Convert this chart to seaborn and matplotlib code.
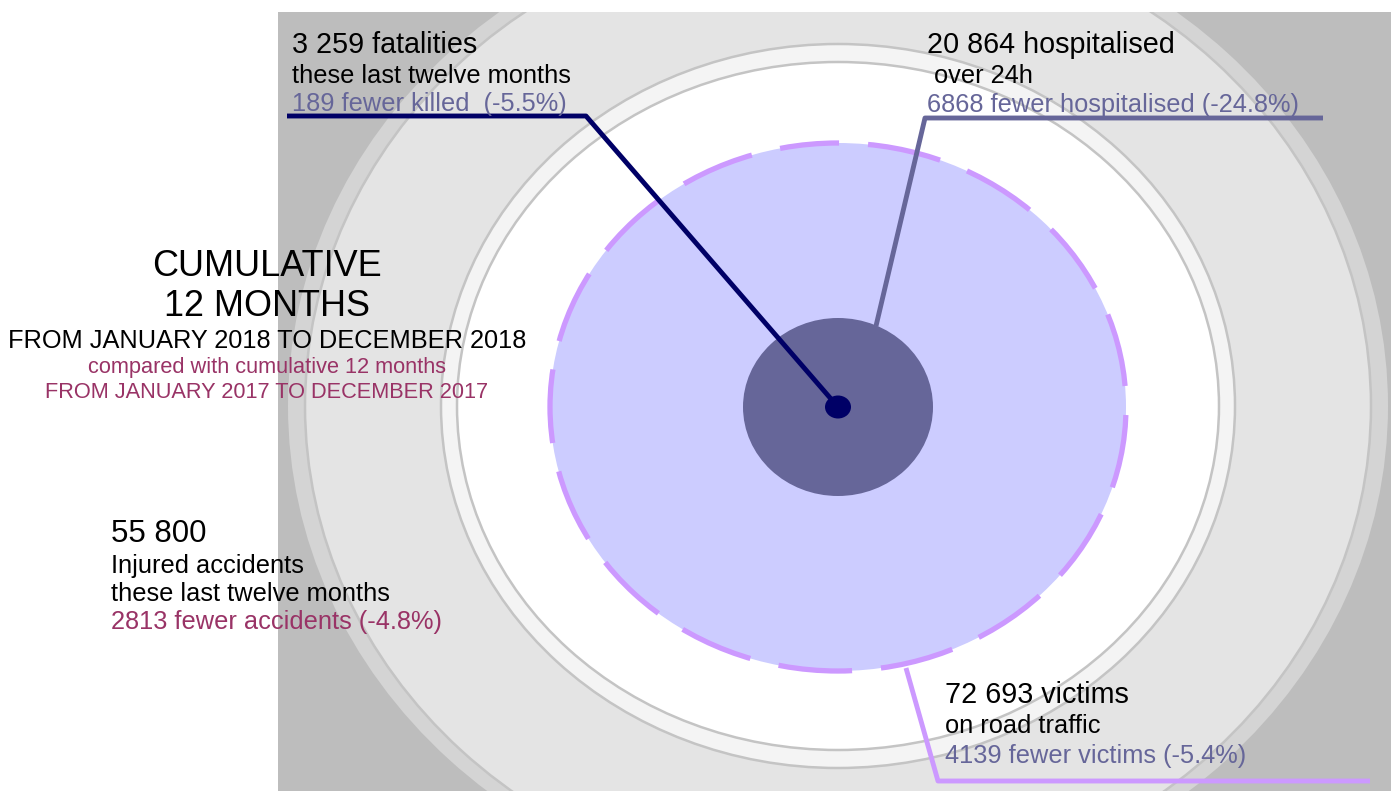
import pandas as pd
import matplotlib.pyplot as plt
import seaborn as sns
from matplotlib.patches import Ellipse, Rectangle

# Text blocks shown on the chart
FATALITIES = ['3 259 fatalities', 'these last twelve months', '189 fewer killed  (-5.5%)']
HOSPITALISED = ['20 864 hospitalised', ' over 24h', '6868 fewer hospitalised (-24.8%)']
VICTIMS = ['72 693 victims', 'on road traffic', '4139 fewer victims (-5.4%)']
ACCIDENTS = ['55 800', 'Injured accidents', 'these last twelve months', '2813 fewer accidents (-4.8%)']
PERIOD = ['CUMULATIVE', '12 MONTHS', 'FROM JANUARY 2018 TO DECEMBER 2018']
COMPARED = ['compared with cumulative 12 months', 'FROM JANUARY 2017 TO DECEMBER 2017']

# Circle sizes (half width, half height, in px)
BG_RINGS_W = [550, 533, 397, 381]
BG_RINGS_H = [500, 487, 362, 344]
VICTIMS_R = (288, 264)
HOSP_R = (95, 89)
FATAL_R = (13, 11.5)

# Leader lines (pixel coords)
FATAL_LINE_X = [838, 586, 287]
FATAL_LINE_Y = [407, 116, 116]
HOSP_LINE_X = [876, 925, 1323]
HOSP_LINE_Y = [326, 118, 118]
VICT_LINE_X = [906, 938, 1370]
VICT_LINE_Y = [668, 781, 781]

NAVY = '#000066'
SLATE = '#666699'
LILAC = '#cc99ff'
MAROON = '#993366'

sns.set_theme(style='white')
plt.rcParams['font.family'] = ['Liberation Sans', 'DejaVu Sans']

W, H = 1391, 791
fig = plt.figure(figsize=(W / 100, H / 100), dpi=100)
ax = fig.add_axes([0, 0, 1, 1])

cx, cy = 838, 406

# Grey panel and concentric background rings
panel = Rectangle((278, 12), W - 278, H - 12, facecolor='#bdbdbd', edgecolor='none', zorder=0)
ax.add_patch(panel)
ring_fill = ['#d4d4d4', '#e4e4e4', '#f4f4f4', '#ffffff']
ring_edge = ['none', '#c4c4c4', '#c4c4c4', '#c4c4c4']
for i, (rw, rh) in enumerate(zip(BG_RINGS_W, BG_RINGS_H)):
    e = Ellipse((cx, cy), 2 * rw, 2 * rh, facecolor=ring_fill[i], edgecolor=ring_edge[i],
                lw=1.8, zorder=1 + i)
    ax.add_patch(e)
    e.set_clip_path(panel)

# Victims circle: light fill with a dashed lilac outline
ax.add_patch(Ellipse((cx, cy + 1), 2 * VICTIMS_R[0], 2 * VICTIMS_R[1], facecolor='#ccccff',
                     edgecolor='none', zorder=6))
ax.add_patch(Ellipse((cx, cy + 1), 2 * VICTIMS_R[0], 2 * VICTIMS_R[1], facecolor='none',
                     edgecolor=LILAC, lw=3.8, ls=(13.8, (14, 5.5)), zorder=7))

# Leader lines
lines = pd.DataFrame({
    'x': HOSP_LINE_X + VICT_LINE_X,
    'y': HOSP_LINE_Y + VICT_LINE_Y,
    'which': ['hosp'] * 3 + ['vict'] * 3,
})
for name, color in [('hosp', SLATE), ('vict', LILAC)]:
    sub = lines[lines['which'] == name]
    sns.lineplot(data=sub, x='x', y='y', sort=False, estimator=None, color=color,
                 linewidth=3.5, solid_capstyle='butt', ax=ax, zorder=8)

ax.add_patch(Ellipse((cx, cy + 1), 2 * HOSP_R[0], 2 * HOSP_R[1], facecolor=SLATE,
                     edgecolor='none', zorder=9))
sns.lineplot(x=FATAL_LINE_X, y=FATAL_LINE_Y, sort=False, estimator=None, color=NAVY,
             linewidth=3.5, solid_capstyle='butt', ax=ax, zorder=10)
ax.add_patch(Ellipse((cx, cy + 1), 2 * FATAL_R[0], 2 * FATAL_R[1], facecolor=NAVY,
                     edgecolor='none', zorder=11))

ax.set_xlim(0, W)
ax.set_ylim(H, 0)
ax.axis('off')


def block(x, ys, texts, sizes, colors, ha='left'):
    for y, t, s, c in zip(ys, texts, sizes, colors):
        ax.text(x, y, t, fontsize=s, color=c, ha=ha, va='baseline', zorder=20)


block(292, [53, 83, 111], FATALITIES, [20.7, 18.3, 18.3], ['black', 'black', SLATE])
block(927, [53, 83, 112], HOSPITALISED, [20.7, 18.3, 18.3], ['black', 'black', SLATE])
block(945, [703, 733, 763], VICTIMS, [20.7, 18.3, 18.3], ['black', 'black', SLATE])
block(111, [542, 573, 601, 629], ACCIDENTS, [22.5, 18.3, 18.3, 18.3],
      ['black', 'black', 'black', MAROON])
block(267, [276, 316, 348], PERIOD, [25.9, 25.9, 18.3], ['black'] * 3, ha='center')
block(267, [373, 398], COMPARED, [15.7, 15.7], [MAROON, MAROON], ha='center')

fig.savefig('out.png', dpi=100)
